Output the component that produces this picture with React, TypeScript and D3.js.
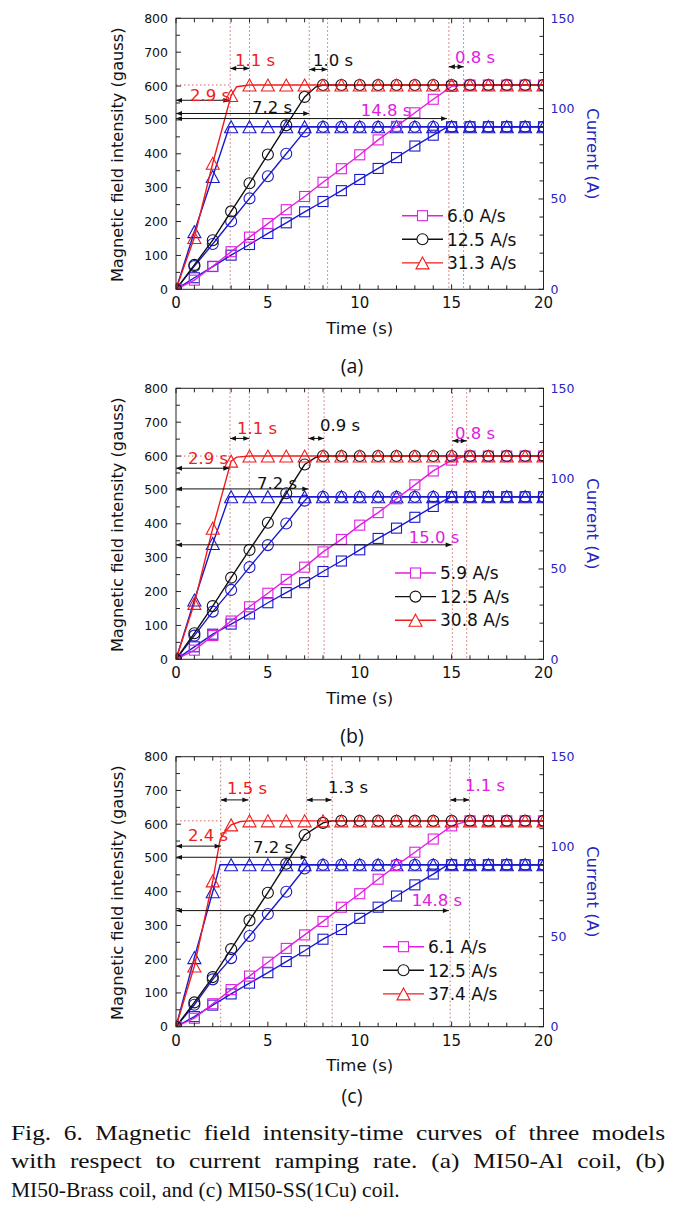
import React, { useLayoutEffect, useRef, useState } from 'react';
import * as d3 from 'd3';

type P = [number, number];

// ---------- shared ticks ----------
const timeMajor = [0, 5, 10, 15, 20];
const timeMinor = [0,1,2,3,4,5,6,7,8,9,10,11,12,13,14,15,16,17,18,19,20];
const fieldMajor = [0, 100, 200, 300, 400, 500, 600, 700, 800];
const fieldMinor = [0,50,100,150,200,250,300,350,400,450,500,550,600,650,700,750,800];
const currentMajor = [0, 50, 100, 150];
const currentMinor = [0,10,20,30,40,50,60,70,80,90,100,110,120,130,140,150];

// ---------- panel (a): MI50-Al ----------
const aRates = ['6.0 A/s', '12.5 A/s', '31.3 A/s'];
const aSqField = [0,27,68,111,154,194,235,274,316,356,397,441,481,521,561,599,603,603,603,603,603];
const aSqFieldKnee: P[] = [[15.6, 603]];
const aCiField = [0,72,145,230,313,398,484,568,603,603,603,603,603,603,603,603,603,603,603,603,603];
const aCiFieldKnee: P[] = [[7.6, 597]];
const aTrField = [0,153,372,572,603,603,603,603,603,603,603,603,603,603,603,603,603,603,603,603,603];
const aTrFieldKnee: P[] = [[3.3, 598]];
const aSqCur = [0,6.4,12.6,18.9,24.8,30.9,36.8,42.9,48.6,54.6,60.8,66.9,72.9,79.3,85.3,90,90,90,90,90,90];
const aSqCurKnee: P[] = [[14.8, 90]];
const aCiCur = [0,12.8,25.1,37.7,50.3,62.6,75,87.4,90,90,90,90,90,90,90,90,90,90,90,90,90];
const aCiCurKnee: P[] = [[7.2, 90]];
const aTrCur = [0,31.9,62.4,90,90,90,90,90,90,90,90,90,90,90,90,90,90,90,90,90,90];
const aTrCurKnee: P[] = [[2.9, 90]];
const aVlines = [2.95, 4.0, 7.25, 8.25, 14.85, 15.65];
const aLongArrows = [{ t: 2.9, g: 558 }, { t: 7.25, g: 519 }, { t: 14.75, g: 504 }];
const aShortArrows = [{ t1: 2.95, t2: 4.0, g: 652 }, { t1: 7.25, t2: 8.25, g: 649 }, { t1: 14.85, t2: 15.65, g: 657 }];
const aLabels = [
  { text: '1.1 s', t: 4.3, g: 676, c: 'red' },
  { text: '1.0 s', t: 8.55, g: 676, c: 'black' },
  { text: '0.8 s', t: 16.28, g: 685, c: 'magenta' },
  { text: '2.9 s', t: 1.85, g: 573, c: 'red' },
  { text: '7.2 s', t: 5.23, g: 538, c: 'black' },
  { text: '14.8 s', t: 11.43, g: 529, c: 'magenta' },
];

// ---------- panel (b): MI50-Brass ----------
const bRates = ['5.9 A/s', '12.5 A/s', '30.8 A/s'];
const bSqField = [0,27,70,113,155,195,236,272,317,354,396,433,474,515,556,588,600,600,600,600,600];
const bSqFieldKnee: P[] = [[15.8, 600]];
const bCiField = [0,77,157,241,323,403,490,575,600,600,600,600,600,600,600,600,600,600,600,600,600];
const bCiFieldKnee: P[] = [[7.6, 596]];
const bTrField = [0,165,387,585,600,600,600,600,600,600,600,600,600,600,600,600,600,600,600,600,600];
const bTrFieldKnee: P[] = [[3.3, 597]];
const bSqCur = [0,6.9,13.9,19.5,25.1,31.3,36.9,42.4,48.6,54.4,60.6,66.9,72.6,78.6,84.6,90,90,90,90,90,90];
const bSqCurKnee: P[] = [];
const bCiCur = [0,13.1,26.4,38.4,51,63.2,75.2,87.8,90,90,90,90,90,90,90,90,90,90,90,90,90];
const bCiCurKnee: P[] = [[7.2, 90]];
const bTrCur = [0,32.8,64.1,90,90,90,90,90,90,90,90,90,90,90,90,90,90,90,90,90,90];
const bTrCurKnee: P[] = [[2.9, 90]];
const bVlines = [2.94, 3.99, 7.2, 8.06, 15.04, 15.82];
const bLongArrows = [{ t: 2.9, g: 564 }, { t: 7.2, g: 503 }, { t: 15.0, g: 338 }];
const bShortArrows = [{ t1: 2.94, t2: 3.99, g: 652 }, { t1: 7.2, t2: 8.06, g: 652 }, { t1: 15.04, t2: 15.82, g: 645 }];
const bLabels = [
  { text: '1.1 s', t: 4.41, g: 683, c: 'red' },
  { text: '0.9 s', t: 8.93, g: 692, c: 'black' },
  { text: '0.8 s', t: 16.28, g: 668, c: 'magenta' },
  { text: '2.9 s', t: 1.74, g: 594, c: 'red' },
  { text: '7.2 s', t: 5.5, g: 520, c: 'black' },
  { text: '15.0 s', t: 14.04, g: 361, c: 'magenta' },
];

// ---------- panel (c): MI50-SS(1Cu) ----------
const cRates = ['6.1 A/s', '12.5 A/s', '37.4 A/s'];
const cSqField = [0,25,68,110,150,191,232,272,312,354,394,437,478,517,556,595,610,610,610,610,610];
const cSqFieldKnee: P[] = [[15.9, 610]];
const cCiField = [0,72,147,230,315,397,483,568,604,610,610,610,610,610,610,610,610,610,610,610,610];
const cCiFieldKnee: P[] = [[8.5, 610]];
const cTrField = [0,180,432,598,610,610,610,610,610,610,610,610,610,610,610,610,610,610,610,610,610];
const cTrFieldKnee: P[] = [[2.4, 555], [2.7, 580], [3.5, 608]];
const cSqCur = [0,5.6,12,18.2,24.2,30,36.2,42.2,48.6,54,60.2,66.4,72.6,78.8,84.8,90,90,90,90,90,90];
const cSqCurKnee: P[] = [[14.8, 90]];
const cCiCur = [0,12.2,26.3,38.1,50.4,62.6,75,87.9,90,90,90,90,90,90,90,90,90,90,90,90,90];
const cCiCurKnee: P[] = [[7.2, 90]];
const cTrCur = [0,38.4,75,90,90,90,90,90,90,90,90,90,90,90,90,90,90,90,90,90,90];
const cTrCurKnee: P[] = [[2.4, 90]];
const cVlines = [2.43, 4.0, 7.11, 8.5, 14.92, 15.97];
const cLongArrows = [{ t: 2.43, g: 535 }, { t: 7.11, g: 502 }, { t: 14.85, g: 344 }];
const cShortArrows = [{ t1: 2.43, t2: 3.94, g: 672 }, { t1: 7.11, t2: 8.47, g: 672 }, { t1: 14.92, t2: 15.97, g: 672 }];
const cLabels = [
  { text: '1.5 s', t: 3.87, g: 707, c: 'red' },
  { text: '1.3 s', t: 9.36, g: 710, c: 'black' },
  { text: '1.1 s', t: 16.82, g: 716, c: 'magenta' },
  { text: '2.4 s', t: 1.74, g: 568, c: 'red' },
  { text: '7.2 s', t: 5.28, g: 533, c: 'black' },
  { text: '14.8 s', t: 14.2, g: 376, c: 'magenta' },
];

const captionLines = [
  'Fig. 6. Magnetic field intensity-time curves of three models',
  'with respect to current ramping rate. (a) MI50-Al coil, (b)',
  'MI50-Brass coil, and (c) MI50-SS(1Cu) coil.',
];

// ---------- styling ----------
const FONT = "'DejaVu Sans', sans-serif";
const COL: Record<string, string> = {
  red: '#f01c1c',
  black: '#111111',
  magenta: '#e020e0',
  blue: '#1a1acc',
  blueText: '#2626c0',
  dotted: '#d46a6a',
};
const X0 = 176;
const X1 = 543.5;

function buildPoints(vals: number[], knee: P[]): P[] {
  const pts: P[] = vals.map((v, i) => [i, v] as P);
  return pts.concat(knee).sort((p, q) => p[0] - q[0]);
}

function Marker({ shape, cx, cy, color, fill }: { shape: string; cx: number; cy: number; color: string; fill: string }) {
  if (shape === 'sq') {
    return <rect x={cx - 5} y={cy - 5} width={10} height={10} fill={fill} stroke={color} strokeWidth={1.1} />;
  }
  if (shape === 'ci') {
    return <circle cx={cx} cy={cy} r={5.5} fill={fill} stroke={color} strokeWidth={1.1} />;
  }
  const w = 13, h = 12;
  return (
    <path
      d={`M${cx},${cy - h / 2}L${cx + w / 2},${cy + h / 2}L${cx - w / 2},${cy + h / 2}Z`}
      fill={fill}
      stroke={color}
      strokeWidth={1.1}
    />
  );
}

type PanelCfg = {
  id: string;
  top: number;
  bottom: number;
  rates: string[];
  field: { vals: number[]; knee: P[] }[];
  cur: { vals: number[]; knee: P[] }[];
  vlines: number[];
  longArrows: { t: number; g: number }[];
  shortArrows: { t1: number; t2: number; g: number }[];
  labels: { text: string; t: number; g: number; c: string }[];
  plateau: number;
  hdotEnd: number;
  legendX: number;
  legendY: number;
  tag: string;
  tagY: number;
};

const shapes = ['sq', 'ci', 'tr'];
const fieldColors = ['magenta', 'black', 'red'];

function Panel({ cfg }: { cfg: PanelCfg }) {
  const x = d3.scaleLinear().domain([0, 20]).range([X0, X1]);
  const y = d3.scaleLinear().domain([0, 800]).range([cfg.bottom, cfg.top]);
  const yR = d3.scaleLinear().domain([0, 150]).range([cfg.bottom, cfg.top]);
  const clipId = 'clip-' + cfg.id;
  const arrowId = 'arr-' + cfg.id;
  const midY = (cfg.top + cfg.bottom) / 2;

  const curLine = d3.line<P>().x((d) => x(d[0])).y((d) => yR(d[1]));
  const fieldLine = d3.line<P>().x((d) => x(d[0])).y((d) => y(d[1]));

  return (
    <g>
      <defs>
        <clipPath id={clipId}>
          <rect x={X0} y={cfg.top} width={X1 - X0} height={cfg.bottom - cfg.top} />
        </clipPath>
        <marker id={arrowId} viewBox="0 0 10 10" refX={10} refY={5} markerWidth={7} markerHeight={6} orient="auto-start-reverse" markerUnits="userSpaceOnUse">
          <path d="M0,1L10,5L0,9Z" fill="#111" />
        </marker>
      </defs>

      {cfg.vlines.map((t, i) => (
        <line key={'v' + i} x1={x(t)} x2={x(t)} y1={cfg.top} y2={cfg.bottom} stroke={COL.dotted} strokeWidth={1} strokeDasharray="1.5,2.5" />
      ))}
      <line x1={x(0)} x2={x(cfg.hdotEnd)} y1={y(cfg.plateau)} y2={y(cfg.plateau)} stroke={COL.dotted} strokeWidth={1} strokeDasharray="1.5,2.5" />

      <g clipPath={`url(#${clipId})`}>
        {cfg.cur.map((s, i) => (
          <path key={'cl' + i} d={curLine(buildPoints(s.vals, s.knee)) || ''} fill="none" stroke={COL.blue} strokeWidth={1.4} />
        ))}
        {cfg.cur.map((s, i) =>
          s.vals.map((v, t) => (
            <Marker key={'cm' + i + '-' + t} shape={shapes[i]} cx={x(t)} cy={yR(v)} color={COL.blue} fill="none" />
          ))
        )}
        {cfg.field.map((s, i) => (
          <path key={'fl' + i} d={fieldLine(buildPoints(s.vals, s.knee)) || ''} fill="none" stroke={COL[fieldColors[i]]} strokeWidth={1.4} />
        ))}
        {cfg.field.map((s, i) =>
          s.vals.map((v, t) => (
            <Marker key={'fm' + i + '-' + t} shape={shapes[i]} cx={x(t)} cy={y(v)} color={COL[fieldColors[i]]} fill="none" />
          ))
        )}
      </g>

      {cfg.longArrows.map((a, i) => (
        <line key={'la' + i} x1={x(0)} x2={x(a.t)} y1={y(a.g)} y2={y(a.g)} stroke="#111" strokeWidth={1} markerStart={`url(#${arrowId})`} markerEnd={`url(#${arrowId})`} />
      ))}
      {cfg.shortArrows.map((a, i) => (
        <line key={'sa' + i} x1={x(a.t1)} x2={x(a.t2)} y1={y(a.g)} y2={y(a.g)} stroke="#111" strokeWidth={1} markerStart={`url(#${arrowId})`} markerEnd={`url(#${arrowId})`} />
      ))}
      {cfg.labels.map((l, i) => (
        <text key={'lb' + i} x={x(l.t)} y={y(l.g) + 6} textAnchor="middle" fontFamily={FONT} fontSize={16.5} fill={COL[l.c]}>
          {l.text}
        </text>
      ))}

      {cfg.rates.map((r, i) => {
        const ly = cfg.legendY + i * 23.6;
        return (
          <g key={'lg' + i}>
            <line x1={cfg.legendX} x2={cfg.legendX + 41} y1={ly} y2={ly} stroke={COL[fieldColors[i]]} strokeWidth={1.4} />
            <Marker shape={shapes[i]} cx={cfg.legendX + 20.5} cy={ly} color={COL[fieldColors[i]]} fill="white" />
            <text x={cfg.legendX + 45} y={ly + 6.2} fontFamily={FONT} fontSize={17} fill="#111">{r}</text>
          </g>
        );
      })}

      <rect x={X0} y={cfg.top} width={X1 - X0} height={cfg.bottom - cfg.top} fill="none" stroke="#222" strokeWidth={1} />

      {timeMinor.map((t) => (
        <g key={'xt' + t}>
          <line x1={x(t)} x2={x(t)} y1={cfg.bottom} y2={cfg.bottom - (t % 5 === 0 ? 5 : 4)} stroke="#222" />
          <line x1={x(t)} x2={x(t)} y1={cfg.top} y2={cfg.top + (t % 5 === 0 ? 5 : 4)} stroke="#222" />
        </g>
      ))}
      {timeMajor.map((t) => (
        <text key={'xl' + t} x={x(t)} y={cfg.bottom + 19} textAnchor="middle" fontFamily={FONT} fontSize={15} fill="#111">{t}</text>
      ))}
      {fieldMinor.map((g) => (
        <line key={'yt' + g} x1={X0} x2={X0 + (g % 100 === 0 ? 5 : 4)} y1={y(g)} y2={y(g)} stroke="#222" />
      ))}
      {fieldMajor.map((g) => (
        <text key={'yl' + g} x={X0 - 8} y={y(g) + 4.5} textAnchor="end" fontFamily={FONT} fontSize={12.5} fill="#111">{g}</text>
      ))}
      {currentMinor.map((c) => (
        <line key={'rt' + c} x1={X1} x2={X1 - (c % 50 === 0 ? 5 : 4)} y1={yR(c)} y2={yR(c)} stroke="#222" />
      ))}
      {currentMajor.map((c) => (
        <text key={'rl' + c} x={X1 + 7} y={yR(c) + 4.5} textAnchor="start" fontFamily={FONT} fontSize={12.5} fill={COL.blueText}>{c}</text>
      ))}

      <text x={(X0 + X1) / 2} y={cfg.bottom + 44.5} textAnchor="middle" fontFamily={FONT} fontSize={16.5} fill="#111">Time (s)</text>
      <text transform={`translate(122.5,${midY + 1}) rotate(-90)`} textAnchor="middle" fontFamily={FONT} fontSize={16.2} fill="#111">
        Magnetic field intensity (gauss)
      </text>
      <text transform={`translate(587,${midY}) rotate(90)`} textAnchor="middle" fontFamily={FONT} fontSize={16.5} fill={COL.blueText}>
        Current (A)
      </text>
      <text x={352} y={cfg.tagY} textAnchor="middle" fontFamily="'Open Sans', sans-serif" fontSize={19.5} fill="#111">{cfg.tag}</text>
    </g>
  );
}

const panels: PanelCfg[] = [
  {
    id: 'a', top: 18.3, bottom: 289.3, rates: aRates,
    field: [{ vals: aSqField, knee: aSqFieldKnee }, { vals: aCiField, knee: aCiFieldKnee }, { vals: aTrField, knee: aTrFieldKnee }],
    cur: [{ vals: aSqCur, knee: aSqCurKnee }, { vals: aCiCur, knee: aCiCurKnee }, { vals: aTrCur, knee: aTrCurKnee }],
    vlines: aVlines, longArrows: aLongArrows, shortArrows: aShortArrows, labels: aLabels,
    plateau: 603, hdotEnd: 2.95, legendX: 402, legendY: 215.7, tag: '(a)', tagY: 373,
  },
  {
    id: 'b', top: 388.3, bottom: 659.3, rates: bRates,
    field: [{ vals: bSqField, knee: bSqFieldKnee }, { vals: bCiField, knee: bCiFieldKnee }, { vals: bTrField, knee: bTrFieldKnee }],
    cur: [{ vals: bSqCur, knee: bSqCurKnee }, { vals: bCiCur, knee: bCiCurKnee }, { vals: bTrCur, knee: bTrCurKnee }],
    vlines: bVlines, longArrows: bLongArrows, shortArrows: bShortArrows, labels: bLabels,
    plateau: 600, hdotEnd: 2.94, legendX: 395, legendY: 573, tag: '(b)', tagY: 743,
  },
  {
    id: 'c', top: 756.7, bottom: 1026.7, rates: cRates,
    field: [{ vals: cSqField, knee: cSqFieldKnee }, { vals: cCiField, knee: cCiFieldKnee }, { vals: cTrField, knee: cTrFieldKnee }],
    cur: [{ vals: cSqCur, knee: cSqCurKnee }, { vals: cCiCur, knee: cCiCurKnee }, { vals: cTrCur, knee: cTrCurKnee }],
    vlines: cVlines, longArrows: cLongArrows, shortArrows: cShortArrows, labels: cLabels,
    plateau: 610, hdotEnd: 2.6, legendX: 383, legendY: 946.7, tag: '(c)', tagY: 1103,
  },
];

function Caption() {
  const capBase = [1140, 1168, 1196.5];
  const justify = [true, true, false];
  const stretch = [1.18, 1.18, 1.0];
  const capX = 11;
  const capRight = 665;
  const refs = useRef<(SVGTextElement | null)[]>([]);
  const [ws, setWs] = useState<number[]>([0, 0, 0]);
  useLayoutEffect(() => {
    const next = captionLines.map((l, i) => {
      const el = refs.current[i];
      if (!el || !justify[i]) return 0;
      const nat = el.getComputedTextLength();
      const spaces = l.split(' ').length - 1;
      return Math.max(0, ((capRight - capX) / stretch[i] - nat) / spaces);
    });
    setWs(next);
  }, []);
  return (
    <g>
      {captionLines.map((l, i) => (
        <g key={'cap' + i} transform={`translate(${capX},${capBase[i]}) scale(${stretch[i]},1)`}>
          <text
            ref={(el) => { refs.current[i] = el; }}
            x={0}
            y={0}
            fontFamily="'Liberation Serif', serif"
            fontSize={21.5}
            fill="#111"
            style={{ wordSpacing: ws[i] + 'px' }}
          >
            {l}
          </text>
        </g>
      ))}
    </g>
  );
}

export default function App() {
  return (
    <svg width={678} height={1227} style={{ position: 'absolute', left: 0, top: 0, background: 'white' }} xmlns="http://www.w3.org/2000/svg">
      <rect x={0} y={0} width={678} height={1227} fill="white" />
      {panels.map((p) => (
        <Panel key={p.id} cfg={p} />
      ))}
      <Caption />
    </svg>
  );
}
